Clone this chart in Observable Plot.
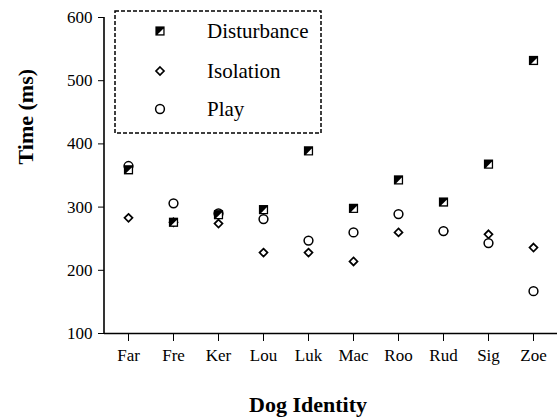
<!DOCTYPE html>
<html>
<head>
<meta charset="utf-8">
<script src="https://cdn.jsdelivr.net/npm/d3@7"></script>
<script src="https://cdn.jsdelivr.net/npm/@observablehq/plot@0.6"></script>
<style>
  html, body { margin: 0; padding: 0; background: #fff; }
  #wrap { position: relative; width: 558px; height: 418px; }
  #legend { position: absolute; left: 114px; top: 10px; }
</style>
</head>
<body>
<div id="wrap"></div>
<script>
const dogs = ["Far", "Fre", "Ker", "Lou", "Luk", "Mac", "Roo", "Rud", "Sig", "Zoe"];
const disturbance = [359, 276, 288, 296, 389, 298, 343, 308, 368, 532];
const isolation   = [283, 276, 274, 228, 228, 214, 260, 262, 257, 236];
const play        = [365, 306, 290, 281, 247, 260, 289, 262, 243, 167];
const yTicks = [100, 200, 300, 400, 500, 600];
const seriesNames = ["Disturbance", "Isolation", "Play"];

const toRows = vals => dogs.map((dog, i) => ({dog, v: vals[i]}));
const dRows = toRows(disturbance), iRows = toRows(isolation), pRows = toRows(play);

const halfOf = size => Math.sqrt(size / Math.PI);
const squareSym = {draw(c, s) { const h = halfOf(s); c.moveTo(-h, -h); c.lineTo(h, -h); c.lineTo(h, h); c.lineTo(-h, h); c.closePath(); }};
const triSym = {draw(c, s) { const h = halfOf(s); c.moveTo(h - 1.3, -h + 2.3); c.lineTo(h - 1.3, h - 1.3); c.lineTo(-h + 2.3, h - 1.3); c.closePath(); }};
const diamondSym = {draw(c, s) { const h = halfOf(s); c.moveTo(0, -h); c.lineTo(h, 0); c.lineTo(0, h); c.lineTo(-h, 0); c.closePath(); }};

// vertical y-axis line drawn from the y scale
const yAxisLine = (index, scales, values, dims) => {
  const g = d3.create("svg:g");
  g.append("line")
    .attr("x1", dims.marginLeft).attr("x2", dims.marginLeft)
    .attr("y1", scales.y(yTicks[0]) + 0.75).attr("y2", scales.y(yTicks[yTicks.length - 1]))
    .attr("stroke", "#000").attr("stroke-width", 1.6);
  return g.node();
};

const chart = Plot.plot({
  width: 558,
  height: 418,
  marginLeft: 104,
  marginRight: 1,
  marginTop: 17,
  marginBottom: 85,
  style: {fontFamily: "'Liberation Serif', 'Times New Roman', serif", fontSize: "17px", background: "#fff", color: "#000"},
  x: {type: "point", domain: dogs, padding: 0.52, label: null, tickSize: 8, tickPadding: 7},
  y: {domain: [100, 600], ticks: yTicks, tickFormat: d => String(d), label: null, tickSize: 6, tickPadding: 6},
  marks: [
    Plot.ruleY([100], {stroke: "#000", strokeWidth: 1.6}),
    yAxisLine,
    Plot.dot(iRows, {x: "dog", y: "v", symbol: diamondSym, r: 4, fill: "#fff", stroke: "#000", strokeWidth: 1.7}),
    Plot.dot(pRows, {x: "dog", y: "v", symbol: "circle", r: 4.4, fill: "#fff", stroke: "#000", strokeWidth: 1.5}),
    Plot.dot(dRows, {x: "dog", y: "v", symbol: squareSym, r: 4.6, fill: "#000", stroke: "none"}),
    Plot.dot(dRows, {x: "dog", y: "v", symbol: triSym, r: 4.6, fill: "#fff", stroke: "none"}),
    Plot.text(["Dog Identity"], {text: d => d, frameAnchor: "bottom", dy: 78, dx: -23, fontWeight: "bold", fontSize: 22}),
    Plot.text(["Time (ms)"], {text: d => d, frameAnchor: "left", dx: -79, dy: -11, rotate: -90, fontWeight: "bold", fontSize: 22})
  ]
});
document.getElementById("wrap").appendChild(chart);

// Legend (inside the plot area, as in the reference)
const lg = d3.select("#wrap").append("svg").attr("id", "legend")
  .attr("width", 209).attr("height", 125);
lg.append("rect").attr("x", 1).attr("y", 1).attr("width", 206).attr("height", 122)
  .attr("fill", "#fff").attr("stroke", "#000").attr("stroke-width", 1.5).attr("stroke-dasharray", "4,2");
const rowY = [21, 61, 99];
const mx = 46;
const symPath = (sym, r) => { const p = d3.path(); sym.draw(p, r * r * Math.PI); return p.toString(); };
seriesNames.forEach((name, i) => {
  const g = lg.append("g").attr("transform", `translate(${mx},${rowY[i]})`);
  if (name === "Disturbance") {
    g.append("path").attr("d", symPath(squareSym, 4.6)).attr("fill", "#000");
    g.append("path").attr("d", symPath(triSym, 4.6)).attr("fill", "#fff");
  } else if (name === "Isolation") {
    g.append("path").attr("d", symPath(diamondSym, 4)).attr("fill", "#fff").attr("stroke", "#000").attr("stroke-width", 1.7);
  } else {
    g.append("circle").attr("r", 4.4).attr("fill", "#fff").attr("stroke", "#000").attr("stroke-width", 1.5);
  }
  lg.append("text").attr("x", 93).attr("y", rowY[i]).attr("dy", "0.35em")
    .attr("font-family", "'Liberation Serif', 'Times New Roman', serif").attr("font-size", 21)
    .text(name);
});
</script>
</body>
</html>
